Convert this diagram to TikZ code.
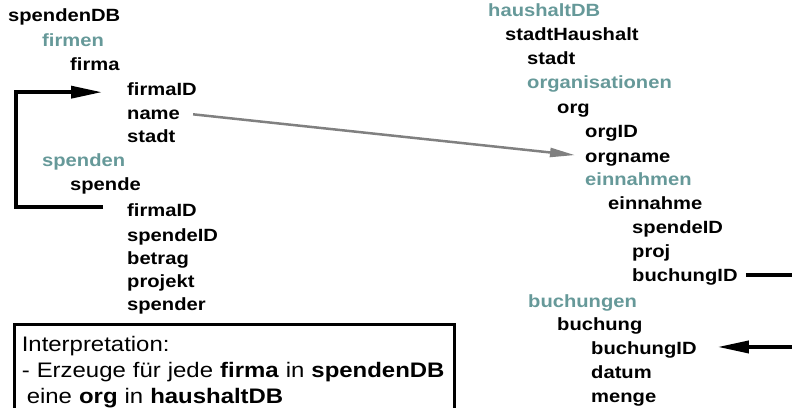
\documentclass[tikz,border=0pt]{standalone}
\usepackage{fontspec}
\setmainfont{Liberation Sans}[FakeStretch=1.14]
\usetikzlibrary{arrows.meta, positioning}
\definecolor{groupteal}{RGB}{102,153,153}
\definecolor{linkgray}{RGB}{128,128,128}

\begin{document}
\begin{tikzpicture}[
        x=1pt, y=-1pt,
        field/.style={inner sep=0pt, anchor=base west, font=\fontsize{17.7}{20}\selectfont\bfseries},
        group/.style={field, text=groupteal},
        note/.style={draw=black, line width=2.8pt, anchor=north west, align=left, text width=426pt, inner xsep=7pt, inner ysep=11pt, text depth=75pt, font=\fontsize{21}{26.3}\selectfont},
        keyarrow/.style={-{Triangle[length=31pt, width=12pt]}, line width=3.5pt},
        maparrow/.style={-{Triangle[length=25pt, width=9pt]}, line width=2.5pt, draw=linkgray}
    ]
        \useasboundingbox (0,0) rectangle (792,407);
        \clip (0,0) rectangle (792,407);

        \node[field] (spendendb) at (8,21) {spendenDB};
        \node[group] (firmen) at (42,46) {firmen};
        \node[field] (firma) at (70,70) {firma};
        \node[field] (firmaid) at (127,95) {firmaID};
        \node[field] (name) at (127,119) {name};
        \node[field] (fstadt) at (127,142) {stadt};
        \node[group] (spenden) at (42,166) {spenden};
        \node[field] (spende) at (70,190) {spende};
        \node[field] (sfirmaid) at (127,216) {firmaID};
        \node[field] (spendeid) at (127,241) {spendeID};
        \node[field] (betrag) at (127,264) {betrag};
        \node[field] (projekt) at (127,287) {projekt};
        \node[field] (spender) at (127,310) {spender};

        \node[group] (haushaltdb) at (488,16) {haushaltDB};
        \node[field] (stadthaushalt) at (505,40) {stadtHaushalt};
        \node[field] (hstadt) at (527,64) {stadt};
        \node[group] (organisationen) at (527,88) {organisationen};
        \node[field] (org) at (557,113) {org};
        \node[field] (orgid) at (585,137) {orgID};
        \node[field] (orgname) at (585,162) {orgname};
        \node[group] (einnahmen) at (585,185) {einnahmen};
        \node[field] (einnahme) at (608,209) {einnahme};
        \node[field] (espendeid) at (632,233) {spendeID};
        \node[field] (proj) at (632,257) {proj};
        \node[field] (ebuchungid) at (632,281) {buchungID};
        \node[group] (buchungen) at (528,307) {buchungen};
        \node[field] (buchung) at (557,330) {buchung};
        \node[field] (bbuchungid) at (591,354) {buchungID};
        \node[field] (datum) at (591,378) {datum};
        \node[field] (menge) at (591,402) {menge};

        \node[note] (interp) at (13.4,323.4) {Interpretation:\\- Erzeuge für jede \textbf{firma} in \textbf{spendenDB}\\\hspace*{5pt}eine \textbf{org} in \textbf{haushaltDB}};

        \coordinate (leftrail) at (16,150);
        \coordinate (rightrail) at (812,310);

        \draw[maparrow] ([xshift=13pt]name.east) -- ([xshift=-10pt, yshift=4pt]orgname.west);
        \draw[keyarrow] ([xshift=-24pt, yshift=2.5pt]sfirmaid.west) -| (leftrail) |- ([xshift=-25pt, yshift=-3.5pt]firmaid.west);
        \draw[keyarrow] ([xshift=8pt, yshift=1.5pt]ebuchungid.east) -| (rightrail) |- ([xshift=21pt, yshift=2.5pt]bbuchungid.east);
    \end{tikzpicture}
\end{document}
